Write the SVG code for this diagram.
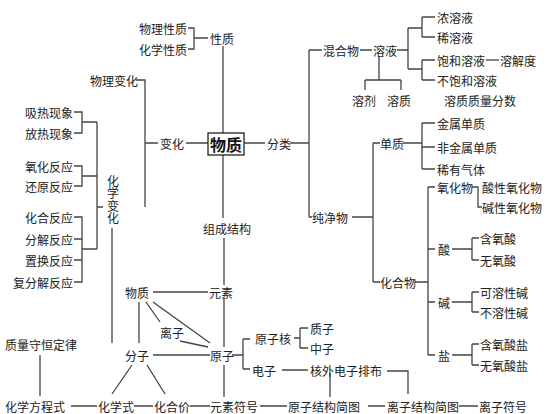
<svg xmlns="http://www.w3.org/2000/svg" width="547" height="414" viewBox="0 0 547 414">
<style>
text{font-family:"Noto Sans CJK SC","Noto Sans",sans-serif;font-size:12px;fill:#222;dominant-baseline:central}
.e{text-anchor:end}
.v{writing-mode:vertical-rl;letter-spacing:0.5px}
.b{font-size:16px;font-weight:bold;text-anchor:middle;fill:#111}
#connectors path{fill:none;stroke:#444;stroke-width:1.3}
.box{fill:#fff;stroke:#222;stroke-width:1.3}
</style>
<rect width="547" height="414" fill="#fff"/>
<g id="connectors">
<path d="M188,28H194V49H188M194,38H208"/>
<path d="M223,46V133"/>
<path d="M136,80H145V207"/>
<path d="M145,143H158M186,143H208M244,143H265"/>
<path d="M223,155V218M224,238V285"/>
<path d="M74,112H82V133H74M82,122H97"/>
<path d="M74,166H82V186H74M82,176H97"/>
<path d="M74,217H82V282H74M74,239H82M74,260H82M82,249H97"/>
<path d="M97,122V249M97,207H103"/>
<path d="M112,228V343"/>
<path d="M290,143H309M309,50V217M309,50H322M309,217H312"/>
<path d="M360,50H372M397,50H408M408,28V69M408,28H422M408,69H422"/>
<path d="M422,17V37M422,17H435M422,37H435M422,60V80M422,60H435M422,80H435"/>
<path d="M486,60H499"/>
<path d="M379,57V80M365,80H401M365,80V90M401,80V90"/>
<path d="M352,217H373M373,143V282M373,143H380M373,282H380"/>
<path d="M403,143H422M422,123V169M422,123H435M422,147H435M422,169H435"/>
<path d="M415,282H428M428,187V355M428,187H435M428,249H435M428,302H435M428,355H435"/>
<path d="M472,187H478V207H482"/>
<path d="M452,249H472M472,238V260M472,238H479M472,260H479"/>
<path d="M452,302H472M472,292V312M472,292H479M472,312H479"/>
<path d="M452,355H472M472,344V365M472,344H479M472,365H479"/>
<path d="M153,292H208M224,298V347M224,365V397"/>
<path d="M139,302V343M146,302L160,322M153,302L210,343M180,341L208,347M153,355H210"/>
<path d="M232,355H243M243,339V369M243,339H250M243,369H250"/>
<path d="M294,338H300M300,328V348M300,328H308M300,348H308"/>
<path d="M282,370H308M330,373V397M387,371H408V394"/>
<path d="M132,365L112,394M147,365L165,394"/>
<path d="M40,355V396"/>
<path d="M71,406H97M134,406H153M190,406H210M260,406H287M368,406H385M459,406H478"/>
</g>
<g id="n-wuzhi"><rect class="box" x="208" y="133" width="36" height="22"/><text class="b" x="226" y="144">物质</text></g>
<g id="n-xingzhi"><text x="139" y="28">物理性质</text><text x="139" y="49">化学性质</text><text x="210" y="38">性质</text></g>
<g id="n-bianhua"><text x="90" y="80">物理变化</text><text x="160" y="143">变化</text>
<text class="v" x="113" y="175">化学变化</text></g>
<g id="n-fanying">
<text class="e" x="73" y="112">吸热现象</text><text class="e" x="73" y="133">放热现象</text>
<text class="e" x="73" y="166">氧化反应</text><text class="e" x="73" y="186">还原反应</text>
<text class="e" x="73" y="217">化合反应</text><text class="e" x="73" y="239">分解反应</text>
<text class="e" x="73" y="260">置换反应</text><text class="e" x="73" y="282">复分解反应</text></g>
<g id="n-fenlei"><text x="267" y="143">分类</text></g>
<g id="n-zucheng"><text x="203" y="228">组成结构</text></g>
<g id="n-hunhewu"><text x="323" y="50">混合物</text><text x="373" y="50">溶液</text>
<text x="437" y="17">浓溶液</text><text x="437" y="37">稀溶液</text><text x="437" y="60">饱和溶液</text><text x="500" y="60">溶解度</text><text x="437" y="80">不饱和溶液</text>
<text x="352" y="100">溶剂</text><text x="387" y="100">溶质</text><text x="444" y="100">溶质质量分数</text></g>
<g id="n-chunjingwu"><text x="312" y="217">纯净物</text><text x="380" y="143">单质</text>
<text x="437" y="123">金属单质</text><text x="437" y="147">非金属单质</text><text x="437" y="169">稀有气体</text>
<text x="380" y="282">化合物</text><text x="437" y="187">氧化物</text><text x="482" y="187">酸性氧化物</text><text x="482" y="207">碱性氧化物</text>
<text x="438" y="249">酸</text><text x="480" y="238">含氧酸</text><text x="480" y="260">无氧酸</text>
<text x="438" y="302">碱</text><text x="480" y="292">可溶性碱</text><text x="480" y="312">不溶性碱</text>
<text x="438" y="355">盐</text><text x="480" y="344">含氧酸盐</text><text x="480" y="365">无氧酸盐</text></g>
<g id="n-weiguan"><text x="209" y="292">元素</text><text x="125" y="292">物质</text><text x="160" y="332">离子</text>
<text x="125" y="355">分子</text><text x="210" y="355">原子</text><text x="255" y="338">原子核</text>
<text x="310" y="328">质子</text><text x="310" y="348">中子</text><text x="252" y="370">电子</text><text x="310" y="370">核外电子排布</text></g>
<g id="n-huaxueyongyu"><text x="5" y="344">质量守恒定律</text><text x="5" y="406">化学方程式</text><text x="98" y="406">化学式</text>
<text x="154" y="406">化合价</text><text x="210" y="406">元素符号</text><text x="288" y="406">原子结构简图</text><text x="387" y="406">离子结构简图</text><text x="479" y="406">离子符号</text></g>
</svg>
